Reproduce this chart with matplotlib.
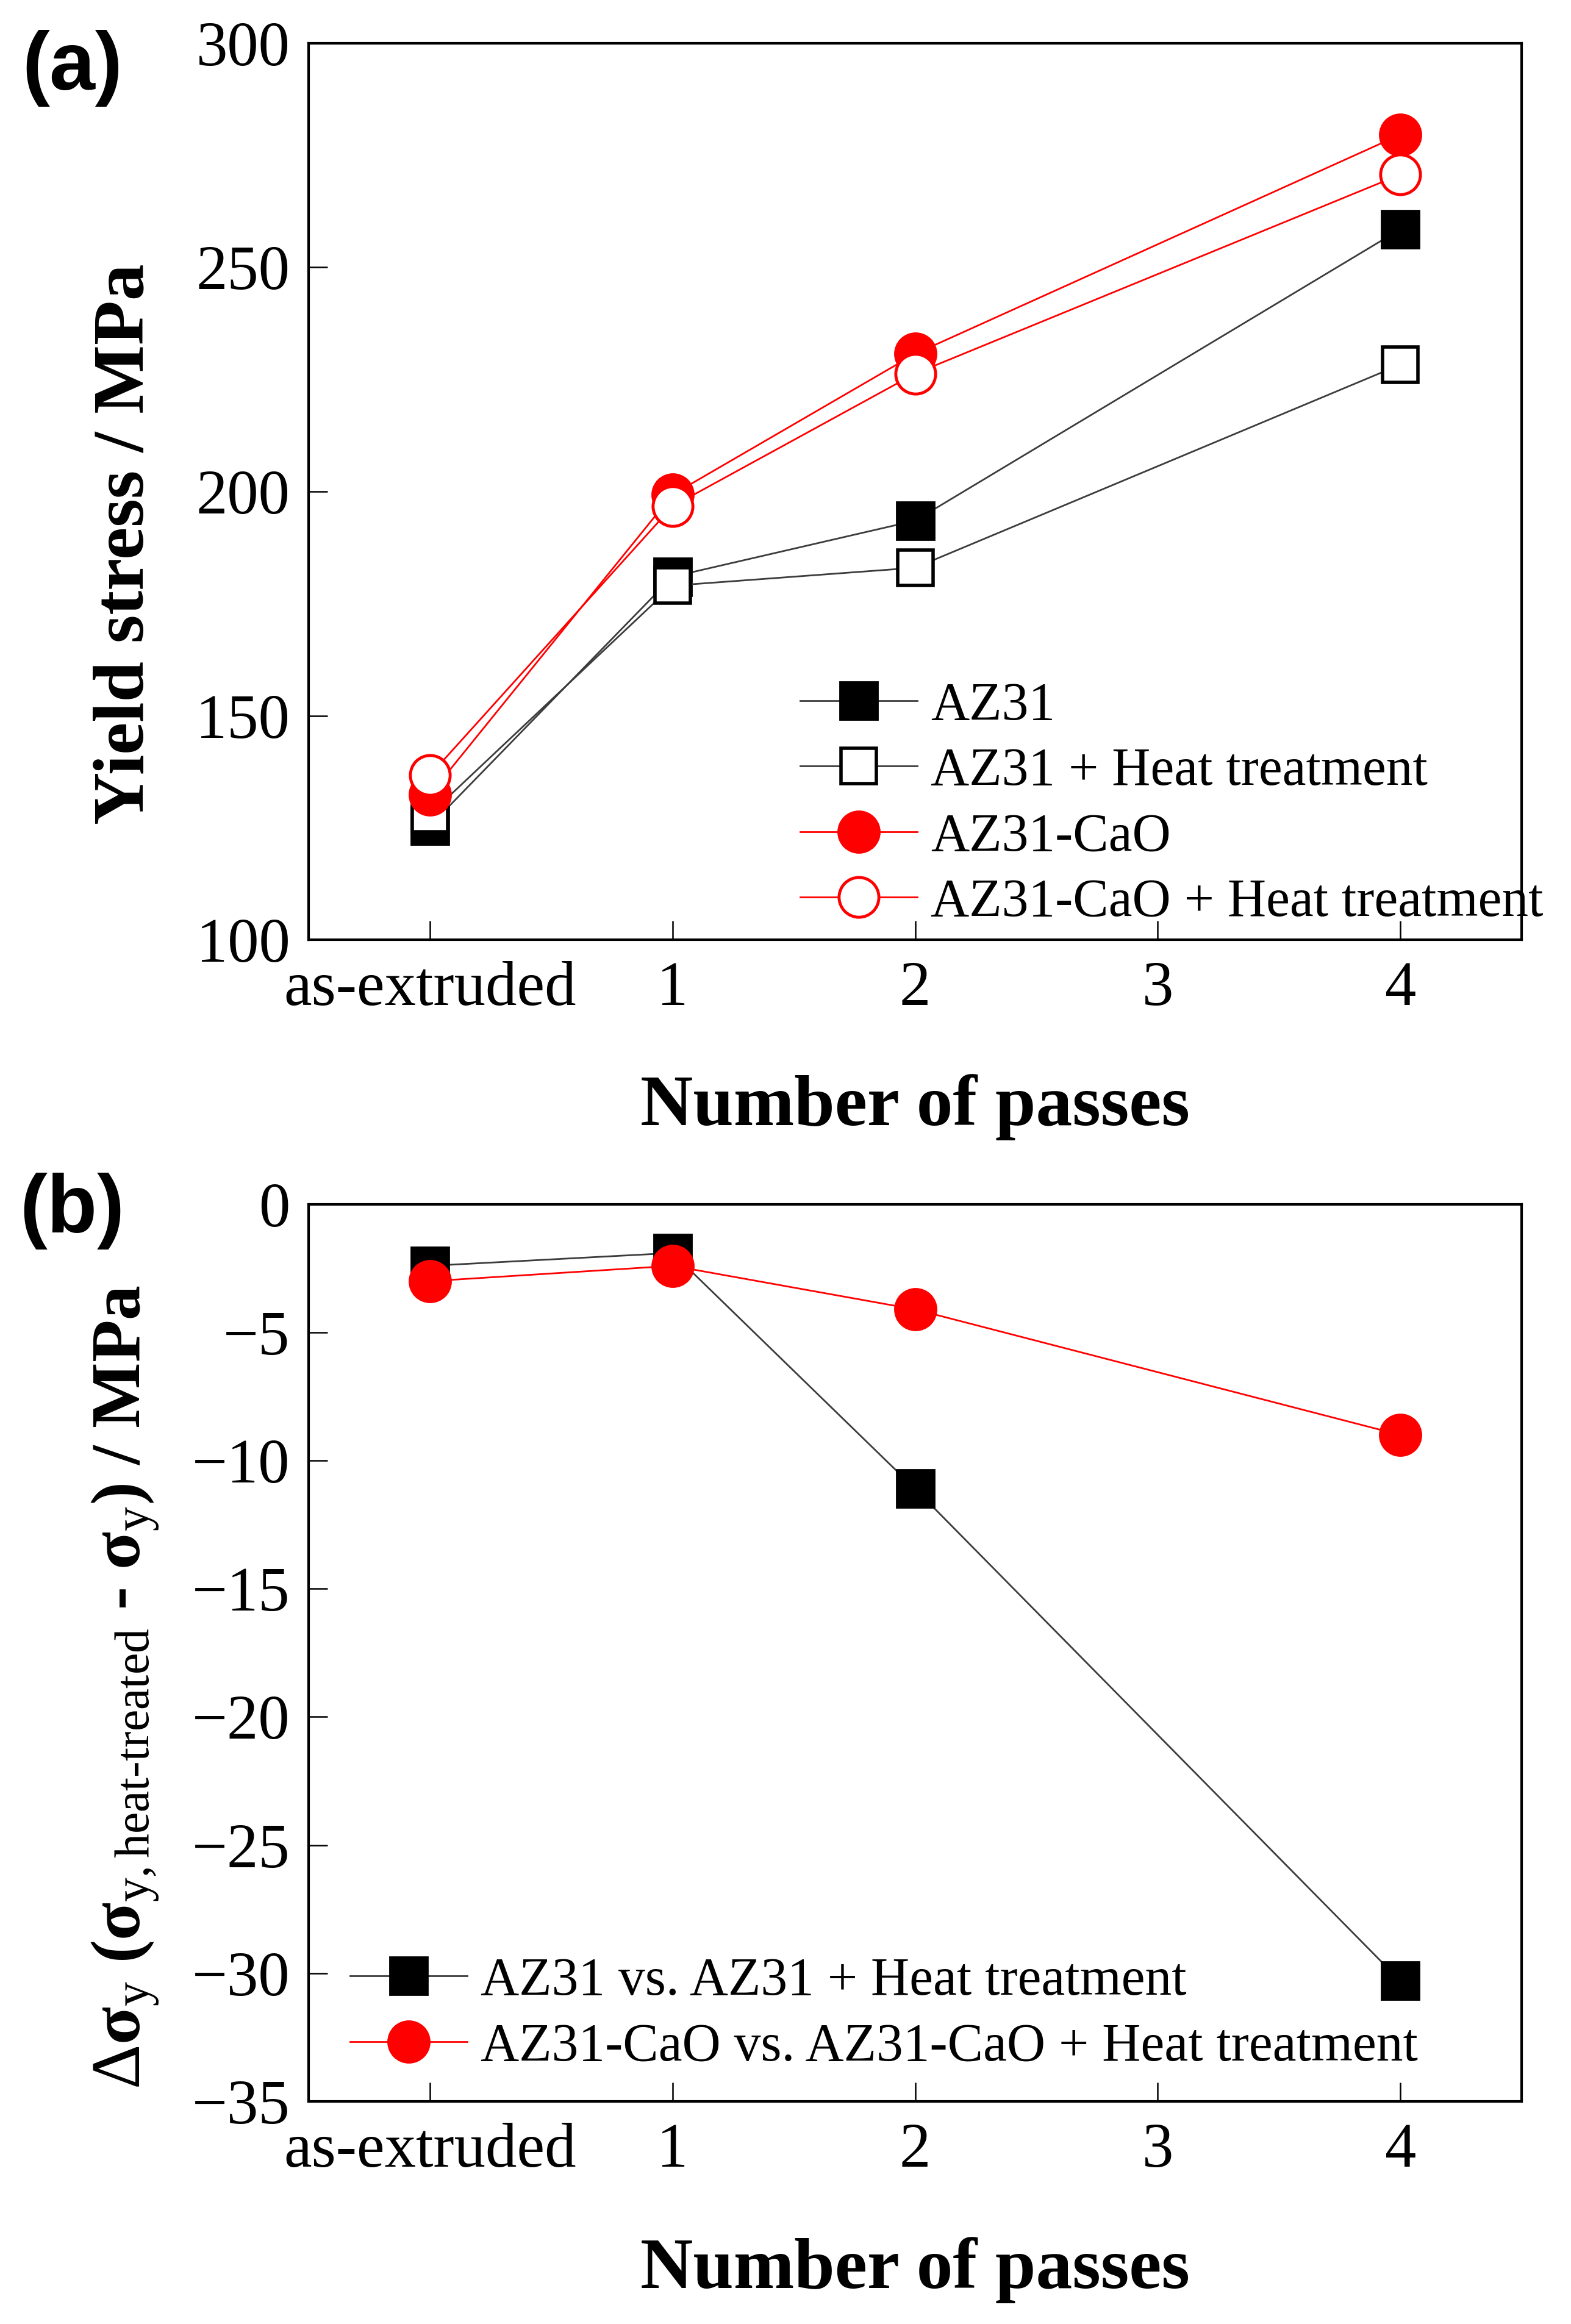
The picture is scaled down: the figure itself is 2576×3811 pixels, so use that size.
import matplotlib
matplotlib.use("Agg")
import matplotlib.pyplot as plt

# ----------------------------
# Data
# ----------------------------
pass_labels = ['as-extruded', '1', '2', '3', '4']
pass_pos = [0, 1, 2, 4]          # positions that carry data (no pass 3)

az31 = [125.4, 181.0, 193.5, 258.5]
az31_ht = [128.0, 179.0, 183.0, 228.3]
cao = [132.4, 199.3, 230.7, 279.6]
cao_ht = [136.7, 196.7, 226.3, 270.7]

az31_diff = [-2.4, -1.9, -11.1, -30.3]
cao_diff = [-3.0, -2.4, -4.1, -9.0]

# ----------------------------
# Style
# ----------------------------
plt.rcParams['font.family'] = ['Liberation Serif', 'DejaVu Serif']
plt.rcParams['mathtext.fontset'] = 'custom'
plt.rcParams['mathtext.rm'] = 'Liberation Serif'
plt.rcParams['mathtext.bf'] = 'Liberation Serif:bold'
plt.rcParams['mathtext.it'] = 'Liberation Serif:italic'

TICK_FS = 74
LABEL_FS = 86
LEG_FS = 63
LINE_GRAY = '#3c3c3c'


def style_axes(ax, ylim, yticks):
    ax.set_xlim(-0.5, 4.5)
    ax.set_ylim(*ylim)
    ax.set_xticks(range(len(pass_labels)))
    ax.set_xticklabels(pass_labels)
    ax.set_yticks(yticks)
    for s in ax.spines.values():
        s.set_linewidth(3)
    ax.tick_params(direction='in', length=22, width=1.8, labelsize=TICK_FS,
                   top=False, right=False)
    ax.tick_params(axis='y', pad=22)
    ax.tick_params(axis='x', pad=25)


fig = plt.figure(figsize=(25.76, 38.11), dpi=100)
ax1 = fig.add_axes([0.1964, 0.5956, 0.7722, 0.3858])
ax2 = fig.add_axes([0.1964, 0.0958, 0.7722, 0.3860])

# ----------------------------
# (a) yield stress
# ----------------------------
ax1.plot(pass_pos, az31, color=LINE_GRAY, lw=2, marker='s', ms=44,
         mfc='black', mec='black', mew=2, label='AZ31')
ax1.plot(pass_pos, az31_ht, color=LINE_GRAY, lw=2, marker='s', ms=42,
         mfc='white', mec='black', mew=4, label='AZ31 + Heat treatment')
ax1.plot(pass_pos, cao, color='red', lw=2, marker='o', ms=49,
         mfc='red', mec='red', mew=2, label='AZ31-CaO')
ax1.plot(pass_pos, cao_ht, color='red', lw=2, marker='o', ms=47,
         mfc='white', mec='red', mew=3.5, label='AZ31-CaO + Heat treatment')
style_axes(ax1, (100, 300), [100, 150, 200, 250, 300])

ax1.legend(loc='center left', bbox_to_anchor=(0.405, 0.151), frameon=False,
           fontsize=LEG_FS, handlelength=2.2, handletextpad=0.25,
           labelspacing=0.3, borderpad=0, borderaxespad=0, markerscale=1.0)

# ----------------------------
# (b) change of yield stress
# ----------------------------
ax2.plot(pass_pos, az31_diff, color=LINE_GRAY, lw=2, marker='s', ms=44,
         mfc='black', mec='black', mew=2, label='AZ31 vs. AZ31 + Heat treatment')
ax2.plot(pass_pos, cao_diff, color='red', lw=2, marker='o', ms=49,
         mfc='red', mec='red', mew=2,
         label='AZ31-CaO vs. AZ31-CaO + Heat treatment')
style_axes(ax2, (-35, 0), [0, -5, -10, -15, -20, -25, -30, -35])

ax2.legend(loc='center left', bbox_to_anchor=(0.034, 0.097), frameon=False,
           fontsize=LEG_FS, handlelength=2.2, handletextpad=0.25,
           labelspacing=0.3, borderpad=0, borderaxespad=0, markerscale=1.0)

# ----------------------------
# Labels
# ----------------------------
fig.text(0.080, 0.766, 'Yield stress / MPa', rotation=90, ha='center',
         va='center', fontsize=LABEL_FS, fontweight='bold')
fig.text(0.5823, 0.5235, 'Number of passes', ha='center', va='center',
         fontsize=LABEL_FS, fontweight='bold')

ylab_b = (r'$\Delta$σ$_\mathrm{y}$ (σ$_{\mathrm{y,heat}\text{-}\mathrm{treated}}$'
          r' - σ$_\mathrm{y}$) / MPa')
fig.text(0.080, 0.274, ylab_b, rotation=90, ha='center', va='center',
         fontsize=82, fontweight='bold')
fig.text(0.5823, 0.0231, 'Number of passes', ha='center', va='center',
         fontsize=LABEL_FS, fontweight='bold')

fig.text(0.046, 0.9706, '(a)', ha='center', va='center', fontsize=97,
         fontweight='bold', family=['Liberation Sans', 'DejaVu Sans'])
fig.text(0.046, 0.479, '(b)', ha='center', va='center', fontsize=97,
         fontweight='bold', family=['Liberation Sans', 'DejaVu Sans'])

fig.savefig('out.png', dpi=100, facecolor='white')
